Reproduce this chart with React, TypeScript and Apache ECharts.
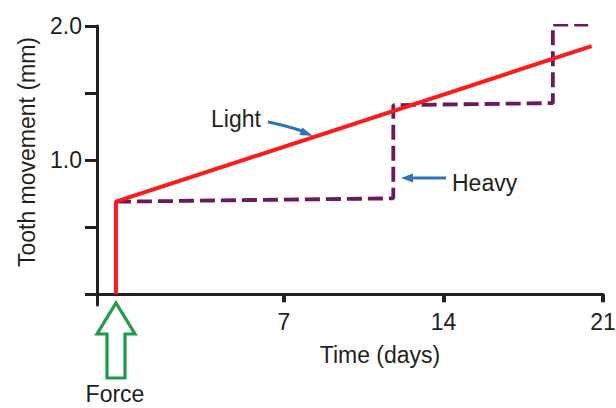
import React, { useEffect, useRef } from "react";
import * as echarts from "echarts";

// Data (days, mm)
const forceDay = -0.37;
const lightX = [forceDay, forceDay, 20.5];
const lightY = [0, 0.69, 1.85];
const heavyX = [forceDay, 11.8, 11.8, 18.8, 18.8, 20.35];
const heavyY = [0.69, 0.715, 1.41, 1.425, 2.01, 2.01];
const xTicks = [7, 14, 21];
const yTicks = [0, 0.5, 1.0, 1.5, 2.0];
const yLabels = [1.0, 2.0];

const FONT = "'Liberation Sans', Arial, Helvetica, sans-serif";
const INK = "#231f20";
const BLUE = "#2e75b6";
const GREEN = "#1f9a4a";
const FS = 23;

export default function App() {
  const ref = useRef<HTMLDivElement>(null);
  useEffect(() => {
    const chart = echarts.init(ref.current!, null, { renderer: "svg" });
    const light = lightX.map((x, i) => [x, lightY[i]]);
    const heavy = heavyX.map((x, i) => [x, heavyY[i]]);
    const txt = (text: string, x: number, y: number, align: string, extra: any = {}) => ({
      type: "text",
      x,
      y,
      ...extra,
      style: {
        text,
        fontSize: FS,
        fontFamily: FONT,
        fill: INK,
        textAlign: align,
        textVerticalAlign: "middle",
      },
    });
    chart.setOption({
      animation: false,
      grid: { left: 97, right: 13, top: 26, bottom: 103, containLabel: false, outerBoundsMode: "none" },
      xAxis: {
        type: "value",
        min: -1.2,
        max: 21,
        axisLine: { onZero: true, lineStyle: { color: INK, width: 3 } },
        axisTick: { show: true, customValues: xTicks, length: 8, lineStyle: { color: INK, width: 4 } },
        axisLabel: {
          customValues: xTicks,
          margin: 5,
          color: INK,
          fontSize: FS,
          fontFamily: FONT,
        },
        splitLine: { show: false },
      },
      yAxis: {
        type: "value",
        min: -0.08,
        max: 2.0,
        axisLine: { show: true, onZero: false, lineStyle: { color: INK, width: 3 } },
        axisTick: { show: true, customValues: yTicks, length: 12, lineStyle: { color: INK, width: 3 } },
        axisLabel: {
          customValues: yLabels,
          formatter: (v: number) => v.toFixed(1),
          margin: 15,
          color: INK,
          fontSize: FS,
          fontFamily: FONT,
        },
        splitLine: { show: false },
      },
      series: [
        {
          name: "Heavy",
          type: "line",
          data: heavy,
          showSymbol: false,
          symbol: "none",
          lineStyle: { color: "#6b1a5e", width: 3.8, type: [15, 6] },
          z: 2,
        },
        {
          name: "Light",
          type: "line",
          data: light,
          showSymbol: false,
          symbol: "none",
          lineStyle: { color: "#ff1a1a", width: 4 },
          z: 3,
        },
      ],
      graphic: [
        txt("Tooth movement (mm)", 27, 152, "center", { rotation: Math.PI / 2 }),
        txt("Time (days)", 380, 355, "center"),
        txt("Force", 115, 394, "center"),
        txt("Light", 211, 119, "left"),
        txt("Heavy", 452, 183, "left"),
        {
          type: "bezierCurve",
          shape: { x1: 268, y1: 122, x2: 302, y2: 131, cpx1: 284, cpy1: 125 },
          style: { stroke: BLUE, lineWidth: 3, fill: "none" },
        },
        {
          type: "polygon",
          shape: { points: [[313, 136], [299.5, 135], [302.3, 127.6]] },
          style: { fill: BLUE },
        },
        {
          type: "line",
          shape: { x1: 446, y1: 178, x2: 410, y2: 178 },
          style: { stroke: BLUE, lineWidth: 3 },
        },
        {
          type: "polygon",
          shape: { points: [[401, 178], [413, 173.5], [413, 182.5]] },
          style: { fill: BLUE },
        },
        {
          type: "polygon",
          shape: {
            points: [
              [116, 303],
              [135, 334],
              [125, 334],
              [125, 378],
              [107, 378],
              [107, 334],
              [97, 334],
            ],
          },
          style: { fill: "#ffffff", stroke: GREEN, lineWidth: 3.2, lineJoin: "miter" },
        },
      ],
    });
    return () => chart.dispose();
  }, []);
  return (
    <div
      ref={ref}
      style={{ position: "fixed", left: 0, top: 0, width: 616, height: 408, background: "#fff" }}
    />
  );
}
